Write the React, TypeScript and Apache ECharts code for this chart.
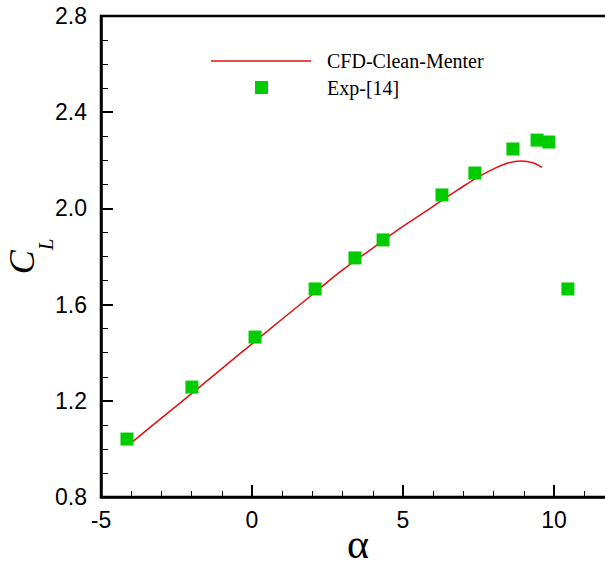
import React, { useEffect, useRef } from "react";
import * as echarts from "echarts";

// CFD curve (alpha in degrees, lift coefficient)
const cfdAlpha = [-4.0, -3.0, -2.0, -1.0, 0.0, 1.0, 2.0, 3.0, 4.0, 4.9, 5.6, 6.2, 6.8, 7.4, 7.9, 8.4, 8.9, 9.3, 9.6];
const cfdCL = [1.025, 1.128, 1.23, 1.334, 1.437, 1.54, 1.642, 1.744, 1.835, 1.917, 1.975, 2.026, 2.076, 2.124, 2.158, 2.186, 2.197, 2.19, 2.171];

// Experimental data
const expAlpha = [-4.14, -1.99, 0.1, 2.09, 3.41, 4.34, 6.29, 7.38, 8.64, 9.44, 9.83, 10.46];
const expCL = [1.041, 1.257, 1.465, 1.665, 1.794, 1.869, 2.056, 2.147, 2.247, 2.284, 2.276, 1.665];

const seriesNames = ["CFD-Clean-Menter", "Exp-[14]"];

// Axis scales
const xMin = -5;
const xMax = 15;
const xInterval = 5;
const yMin = 0.8;
const yMax = 2.8;
const yInterval = 0.4;

const RED = "#e01010";
const GREEN = "#00cc00";

export default function App() {
  const ref = useRef<HTMLDivElement>(null);

  useEffect(() => {
    if (!ref.current) return;
    const chart = echarts.init(ref.current, null, { renderer: "svg" });
    const axisLabelFont = {
      fontFamily: "Liberation Sans, Arial, sans-serif",
      fontSize: 23,
      color: "#000",
    };
    chart.setOption({
      animation: false,
      backgroundColor: "#fff",
      grid: {
        left: 101,
        top: 16,
        bottom: 71,
        right: -100,
        show: true,
        borderColor: "#000",
        borderWidth: 2.5,
        containLabel: false,
        outerBoundsMode: "none",
      },
      xAxis: {
        type: "value",
        min: xMin,
        max: xMax,
        interval: xInterval,
        name: "α",
        nameLocation: "middle",
        nameGap: 26,
        nameMoveOverlap: false,
        nameTextStyle: {
          fontFamily: "Liberation Serif, Times New Roman, serif",
          fontSize: 42,
          color: "#000",
          padding: [0, 90, 0, 0],
        },
        axisLine: { show: true, onZero: false, lineStyle: { color: "#000", width: 2.5 } },
        axisTick: { show: true, inside: true, length: 12, lineStyle: { color: "#000", width: 2 } },
        minorTick: { show: true, splitNumber: 5, length: 6, lineStyle: { color: "#000", width: 1 } },
        splitLine: { show: false },
        axisLabel: { ...axisLabelFont, margin: 11, showMaxLabel: false },
      },
      yAxis: {
        type: "value",
        min: yMin,
        max: yMax,
        interval: yInterval,
        name: "{c|C}{l|L}",
        nameLocation: "middle",
        nameRotate: 90,
        nameGap: 45,
        nameMoveOverlap: false,
        nameTextStyle: {
          color: "#000",
          rich: {
            c: {
              fontFamily: "Liberation Serif, Times New Roman, serif",
              fontStyle: "italic",
              fontSize: 36,
              color: "#000",
              padding: [0, 0, 16, 0],
            },
            l: {
              fontFamily: "Liberation Serif, Times New Roman, serif",
              fontStyle: "italic",
              fontSize: 21,
              color: "#000",
              verticalAlign: "bottom",
            },
          },
        },
        axisLine: { show: true, onZero: false, lineStyle: { color: "#000", width: 2.5 } },
        axisTick: { show: true, inside: true, length: 12, lineStyle: { color: "#000", width: 2 } },
        minorTick: { show: true, splitNumber: 4, length: 7, lineStyle: { color: "#000", width: 1 } },
        splitLine: { show: false },
        axisLabel: {
          ...axisLabelFont,
          margin: 14,
          formatter: (v: number) => v.toFixed(1),
        },
      },
      series: [
        {
          name: seriesNames[0],
          type: "line",
          smooth: 0.4,
          symbol: "none",
          lineStyle: { color: RED, width: 1.5 },
          data: cfdAlpha.map((a, i) => [a, cfdCL[i]]),
          z: 2,
        },
        {
          name: seriesNames[1],
          type: "scatter",
          symbol: "rect",
          symbolSize: 13,
          itemStyle: { color: GREEN, opacity: 1 },
          data: expAlpha.map((a, i) => [a, expCL[i]]),
          z: 3,
        },
      ],
      graphic: [
        {
          type: "line",
          shape: { x1: 211, y1: 61, x2: 311, y2: 61 },
          style: { stroke: RED, lineWidth: 1.5 },
          z: 10,
        },
        {
          type: "rect",
          shape: { x: 255, y: 81, width: 13, height: 13 },
          style: { fill: GREEN },
          z: 10,
        },
        {
          type: "text",
          x: 327,
          y: 61,
          style: {
            text: seriesNames[0],
            fontFamily: "Liberation Serif, Times New Roman, serif",
            fontSize: 20,
            fill: "#000",
            verticalAlign: "middle",
            align: "left",
          },
          z: 10,
        },
        {
          type: "text",
          x: 327,
          y: 88,
          style: {
            text: seriesNames[1],
            fontFamily: "Liberation Serif, Times New Roman, serif",
            fontSize: 20,
            fill: "#000",
            verticalAlign: "middle",
            align: "left",
          },
          z: 10,
        },
      ],
    });
    return () => chart.dispose();
  }, []);

  return (
    <div
      ref={ref}
      style={{ position: "absolute", left: 0, top: 0, width: 605, height: 568, overflow: "hidden" }}
    />
  );
}
